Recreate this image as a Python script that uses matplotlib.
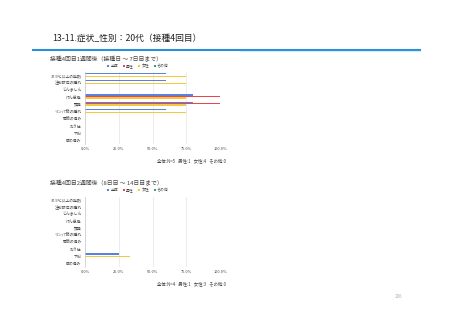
import matplotlib.pyplot as plt
import numpy as np
from matplotlib.lines import Line2D

plt.rcParams['font.family'] = ['Noto Sans CJK JP', 'DejaVu Sans']

categories = ["37.5℃以上の発熱", "注射部位の腫れ", "じんましん", "けん怠感", "頭痛",
              "リンパ節の腫れ", "関節の痛み", "おう吐", "下痢", "腹の痛み"]
series = ["全体", "男性", "女性", "その他"]
colors = ["#5b80e0", "#e8474c", "#f5c842", "#2fa36f"]

# week 1 (%)
w1_all = [60, 60, 0, 80, 80, 60, 0, 0, 0, 0]
w1_male = [0, 0, 0, 100, 100, 0, 0, 0, 0, 0]
w1_female = [75, 75, 0, 75, 75, 75, 0, 0, 0, 0]
w1_other = [0, 0, 0, 0, 0, 0, 0, 0, 0, 0]

# week 2 (%)
w2_all = [0, 0, 0, 0, 0, 0, 0, 0, 25, 0]
w2_male = [0, 0, 0, 0, 0, 0, 0, 0, 0, 0]
w2_female = [0, 0, 0, 0, 0, 0, 0, 0, 33.3, 0]
w2_other = [0, 0, 0, 0, 0, 0, 0, 0, 0, 0]

xticks = [0, 25, 50, 75, 100]
xticklabels = ["0.0%", "25.0%", "50.0%", "75.0%", "100.0%"]

fig = plt.figure(figsize=(4.53, 3.2), dpi=100)
W, H = 453, 320

def fy(y):
    return 1 - y / H

fig.text(52 / W, fy(38), "13-11.症状_性別：20代（接種4回目）", fontsize=6.3,
         color="#222222", va="center")
fig.add_artist(Line2D([33 / W, 420 / W], [fy(49.5), fy(49.5)], color="#2a8fd6", lw=1.5))
fig.add_artist(Line2D([240 / W, 420 / W], [fy(50.5), fy(50.5)], color="#d6ebf8", lw=0.8))

def panel(top, bottom, subtitle, sub_y, leg_y, note, note_y, data):
    ax = fig.add_axes([85 / W, fy(bottom), 135 / W, (bottom - top) / H])
    y = np.arange(len(categories))
    h = 0.19
    for i, vals in enumerate(data):
        ax.barh(y + (i - 1.5) * h, vals, height=h, color=colors[i], label=series[i])
    ax.set_ylim(len(categories) - 0.5, -0.5)
    ax.set_xlim(0, 100)
    ax.set_yticks(y)
    ax.set_yticklabels(categories, fontsize=2.8, color="#444444")
    ax.set_xticks(xticks)
    ax.set_xticklabels(xticklabels, fontsize=2.8, color="#444444")
    ax.tick_params(length=0, pad=2.5)
    ax.grid(axis="x", color="#e4e4e4", lw=0.5)
    ax.set_axisbelow(True)
    for s in ["top", "right", "bottom"]:
        ax.spines[s].set_visible(False)
    ax.spines["left"].set_color("#cccccc")
    ax.spines["left"].set_linewidth(0.5)
    fig.text(50 / W, fy(sub_y), subtitle, fontsize=4.2, color="#444444", va="center")
    ax.legend(loc="center", bbox_to_anchor=(138 / W, fy(leg_y)), bbox_transform=fig.transFigure,
              ncol=4, fontsize=2.8, frameon=False, handlelength=0.5, handleheight=0.5,
              handletextpad=0.3, columnspacing=1.2, labelcolor="#444444")
    fig.text(226 / W, fy(note_y), note, fontsize=3.2, color="#444444", va="center", ha="right")
    return ax

panel(72, 144, "接種4回目1週間後（接種日 ～ 7日目まで）", 59, 66,
      "全体:N=5   男性:1   女性:4   その他:0", 161,
      [w1_all, w1_male, w1_female, w1_other])
panel(196.5, 266.5, "接種4回目2週間後（8日目 ～ 14日目まで）", 183, 190,
      "全体:N=4   男性:1   女性:3   その他:0", 284,
      [w2_all, w2_male, w2_female, w2_other])

fig.text(398 / W, fy(297), "106", fontsize=3.2, color="#aaaaaa", va="center", ha="center")

fig.savefig("out.png", dpi=100)
